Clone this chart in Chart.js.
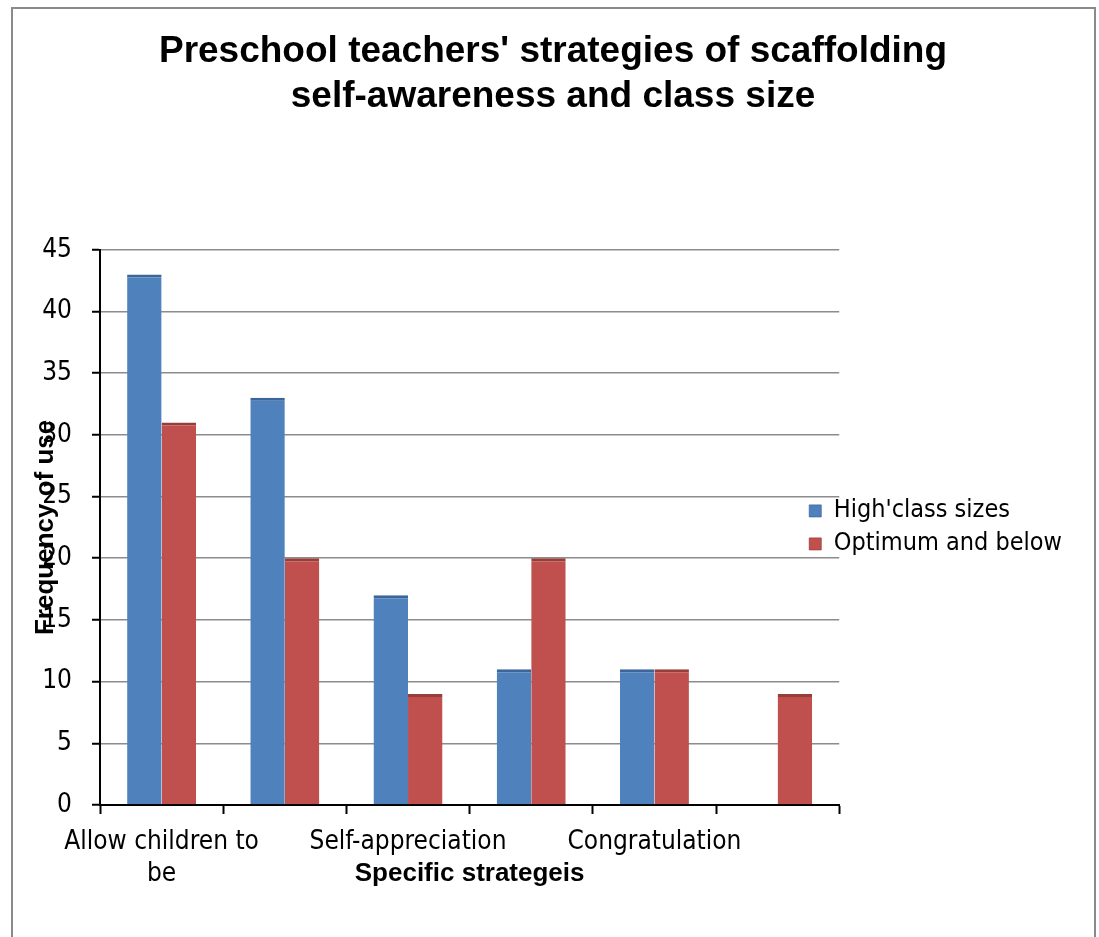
<!DOCTYPE html>
<html><head><meta charset="utf-8">
<script src="https://cdn.jsdelivr.net/npm/chart.js@4"></script>
<style>
html,body{margin:0;padding:0;background:#fff;}
#wrap{position:relative;width:1099px;height:937px;overflow:hidden;background:#fff;}
#frame{position:absolute;left:11px;top:7px;width:1081px;height:960px;border:2px solid #8a8a8a;border-bottom:none;}
canvas{position:absolute;left:0;top:0;}
</style></head><body>
<div id="wrap"><div id="frame"></div><canvas id="c" width="1099" height="937"></canvas></div>
<script>
const titleLines = ["Preschool teachers' strategies of scaffolding", "self-awareness and class size"];
const categories = [['Allow children to', 'be'], '', 'Self-appreciation', '', 'Congratulation', ''];
const seriesNames = ["High'class sizes", 'Optimum and below'];
const highClassSizes = [43, 33, 17, 11, 11, 0];
const optimumAndBelow = [31, 20, 9, 20, 11, 9];
const yMin = 0, yMax = 45, yStep = 5;
const xTitle = 'Specific strategeis';
const yTitle = 'Frequency of use';

const bodyFont = "'DejaVu Sans Condensed', 'DejaVu Sans', sans-serif";
const boldFont = "'Liberation Sans', Arial, sans-serif";

const boxShift = {
  id: 'boxShift',
  afterLayout(chart) {
    const l = chart.legend;
    const w = l.right - l.left;
    l.left = chart.chartArea.right - 38;
    l.right = l.left + w;
    const t = chart.titleBlock;
    t.left -= 12;
    t.right -= 12;
  }
};

new Chart(document.getElementById('c'), {
  type: 'bar',
  data: {
    labels: categories,
    datasets: [
      { label: seriesNames[0], data: highClassSizes, backgroundColor: '#4f81bd', borderColor: '#3b659b',
        borderWidth: {top: 3, right: 0, bottom: 0, left: 0}, borderSkipped: 'bottom' },
      { label: seriesNames[1], data: optimumAndBelow, backgroundColor: '#c0504d', borderColor: '#973d3a',
        borderWidth: {top: 3, right: 0, bottom: 0, left: 0}, borderSkipped: 'bottom' }
    ]
  },
  options: {
    responsive: false,
    animation: false,
    devicePixelRatio: 1,
    categoryPercentage: 0.56,
    barPercentage: 1,
    layout: { padding: { left: 20, right: -11, top: 8, bottom: 42 } },
    plugins: {
      title: {
        display: true, text: titleLines, color: '#000',
        font: { family: boldFont, size: 37, weight: 'bold', lineHeight: 1.2 },
        padding: { top: 22, bottom: 131 }
      },
      legend: {
        position: 'right', align: 'center', fullSize: false,
        labels: {
          boxWidth: 12, boxHeight: 12, color: '#000', padding: 8,
          font: { family: bodyFont, size: 25 }
        }
      },
      tooltip: { enabled: false }
    },
    scales: {
      x: {
        grid: { display: true, drawOnChartArea: false, drawTicks: true, tickLength: 9, tickColor: '#000', tickWidth: 2, offset: true },
        border: { color: '#000', width: 2 },
        ticks: { color: '#000', autoSkip: false, maxRotation: 0, padding: 13,
          font: { family: bodyFont, size: 26, lineHeight: 1.2 } },
        title: { display: true, text: xTitle, color: '#000',
          font: { family: boldFont, size: 26, weight: 'bold' }, padding: { top: 0, bottom: 6 } },
        afterFit(s) { s.height = 90; }
      },
      y: {
        min: yMin, max: yMax,
        grid: { color: '#8c8c8c', lineWidth: 1.5, tickColor: '#000', tickWidth: 2, tickLength: 8 },
        border: { color: '#000', width: 2 },
        ticks: { stepSize: yStep, color: '#000', padding: 20, font: { family: bodyFont, size: 26 } },
        title: { display: true, text: yTitle, color: '#000',
          font: { family: boldFont, size: 26, weight: 'bold' }, padding: { top: 10, bottom: 0 } },
        afterFit(s) { s.width = 80; }
      }
    }
  },
  plugins: [boxShift]
});
</script>
</body></html>
